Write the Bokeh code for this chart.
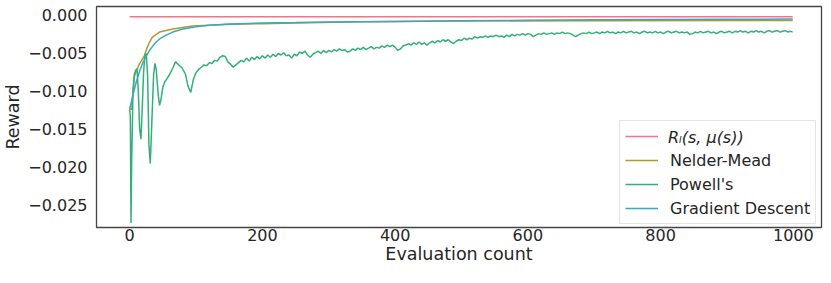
from bokeh.plotting import figure
from bokeh.models import FixedTicker, CustomJSTickFormatter, Legend, LegendItem, Range1d, Label
from bokeh.embed import file_html
from bokeh.resources import INLINE

# ---------------- data ----------------
ref_x = [0, 999]
ref_y = [-0.0003, -0.0003]

nm_x = [0, 3, 5, 7, 9, 14, 18, 22, 26, 30, 34, 40, 45, 55, 65, 80, 95, 120, 145,
        200, 250, 350, 500, 700, 999]
nm_y = [-0.0124, -0.0124, -0.0100, -0.0082, -0.0076, -0.0066, -0.0060, -0.0054,
        -0.0044, -0.0036, -0.0030, -0.0026, -0.0023, -0.0021, -0.0019, -0.0017,
        -0.0015, -0.0014, -0.0013, -0.0012, -0.0011, -0.00095, -0.00085, -0.0008,
        -0.00078]

gd_x = [0, 5, 10, 15, 20, 25, 30, 35, 40, 45, 55, 65, 80, 100, 120, 150, 200, 250,
        300, 400, 500, 600, 700, 800, 900, 999]
gd_y = [-0.0124, -0.0105, -0.0088, -0.0074, -0.0063, -0.0054, -0.0047, -0.0041,
        -0.0036, -0.0032, -0.0027, -0.0023, -0.0019, -0.0016, -0.0014, -0.00125,
        -0.0011, -0.00105, -0.00098, -0.0009, -0.00083, -0.00076, -0.0007, -0.00066,
        -0.00063, -0.0006]

pw_x_early = [0, 1, 2, 3, 4, 5, 7, 9, 11, 13, 15, 17, 19, 21, 23, 25, 27, 29, 31, 33,
              36, 38, 40, 43, 45, 47, 50, 53, 57, 61, 65, 69, 74, 79, 84, 88, 92, 96,
              100, 105]
pw_y_early = [-0.0124, -0.0135, -0.0273, -0.0190, -0.0150, -0.0100, -0.0078, -0.0073,
              -0.0071, -0.0100, -0.0150, -0.0163, -0.0120, -0.0075, -0.0053, -0.0051,
              -0.0080, -0.0170, -0.0195, -0.0150, -0.0080, -0.0064, -0.0072, -0.0105,
              -0.0119, -0.0112, -0.0095, -0.0088, -0.0083, -0.0077, -0.0070, -0.0062,
              -0.0066, -0.0070, -0.0078, -0.0094, -0.0102, -0.0085, -0.0076, -0.0071]
pw_x_late = list(range(108, 997, 4)) + [999]
pw_y_late = [
    -0.0069, -0.0066, -0.0067, -0.0063, -0.0064, -0.0060, -0.0061, -0.0056, -0.0054, -0.0055,
    -0.0062, -0.0065, -0.0069, -0.0066, -0.0063, -0.0060, -0.0062, -0.0057, -0.0061, -0.0056,
    -0.0059, -0.0055, -0.0058, -0.0054, -0.0057, -0.0053, -0.0056, -0.0052, -0.0055, -0.0051,
    -0.0053, -0.0050, -0.0054, -0.0053, -0.0057, -0.0052, -0.0054, -0.0049, -0.0051, -0.0048,
    -0.0053, -0.0056, -0.0052, -0.0050, -0.0048, -0.0051, -0.0047, -0.0050, -0.0047, -0.0049,
    -0.0046, -0.0048, -0.0045, -0.0047, -0.0046, -0.0049, -0.0048, -0.0045, -0.0047, -0.0044,
    -0.0046, -0.0043, -0.0046, -0.0044, -0.0042, -0.0045, -0.0043, -0.0044, -0.0041, -0.0043,
    -0.0040, -0.0042, -0.0040, -0.0043, -0.0047, -0.0045, -0.0041, -0.0040, -0.0038, -0.0040,
    -0.0037, -0.0039, -0.0036, -0.0039, -0.0037, -0.0040, -0.0037, -0.0035, -0.0037, -0.0034,
    -0.0036, -0.0033, -0.0035, -0.0033, -0.0036, -0.0038, -0.0035, -0.0033, -0.0034, -0.0031,
    -0.0033, -0.0031, -0.0032, -0.0029, -0.0031, -0.0029, -0.0030, -0.0028, -0.0030, -0.0028,
    -0.0029, -0.0027, -0.0029, -0.0028, -0.0030, -0.0027, -0.0029, -0.0026, -0.0028, -0.0026,
    -0.0027, -0.0025, -0.0027, -0.0025, -0.0026, -0.0029, -0.0027, -0.0025, -0.0026, -0.0024,
    -0.0026, -0.0025, -0.0024, -0.0026, -0.0024, -0.0025, -0.0023, -0.0025, -0.0024, -0.0025,
    -0.0027, -0.0029, -0.0027, -0.0025, -0.0024, -0.0025, -0.0023, -0.0025, -0.0024, -0.0023,
    -0.0025, -0.0023, -0.0024, -0.0022, -0.0024, -0.0023, -0.0025, -0.0023, -0.0024, -0.0022,
    -0.0024, -0.0023, -0.0022, -0.0024, -0.0023, -0.0025, -0.0023, -0.0022, -0.0024, -0.0023,
    -0.0024, -0.0022, -0.0024, -0.0023, -0.0025, -0.0023, -0.0022, -0.0024, -0.0023, -0.0022,
    -0.0024, -0.0023, -0.0024, -0.0023, -0.0026, -0.0025, -0.0023, -0.0024, -0.0022, -0.0024,
    -0.0023, -0.0022, -0.0024, -0.0023, -0.0025, -0.0023, -0.0022, -0.0024, -0.0023, -0.0022,
    -0.0024, -0.0022, -0.0023, -0.0021, -0.0023, -0.0022, -0.0024, -0.0022, -0.0023, -0.0021,
    -0.0023, -0.0022, -0.0024, -0.0022, -0.0021, -0.0023, -0.0022, -0.0021, -0.0023, -0.0022,
    -0.0021, -0.0023, -0.0022,
    -0.0023]
pw_x = pw_x_early + pw_x_late
pw_y = pw_y_early + pw_y_late

x_ticks = [0, 200, 400, 600, 800, 1000]
y_ticks = [-0.025, -0.020, -0.015, -0.010, -0.005, 0.0]

labels = ["Rₗ(s, μ(s))", "Nelder-Mead", "Powell's", "Gradient Descent"]
colors = ["#f77189", "#ae9b2f", "#33b07a", "#38a9c5"]

FONT = "DejaVu Sans"
TXT = "#262626"

# ---------------- layout constants (pixels) ----------------
W, H = 823, 267
FL, FR, FT, FB = 94, 821, 6, 227          # expected frame box
X0, X1 = -50, 1042.4
Y0, Y1 = -0.02788, 0.00105
LEG_X, LEG_Y = 523, 3                      # legend offset from frame bottom-left
PAD, SPC, ROW_H, GLYPH_W, STANDOFF = 5, 4, 20, 33, 12
LEG_H = 4 * ROW_H + 3 * SPC + 2 * PAD

# ---------------- figure ----------------
p = figure(width=W, height=H, output_backend="svg", toolbar_location=None,
           x_range=Range1d(X0, X1), y_range=Range1d(Y0, Y1),
           min_border_left=FL, min_border_right=W - FR, min_border_top=FT,
           min_border_bottom=H - FB)
p.outline_line_color = "#444444"
p.outline_line_width = 1.3
p.grid.visible = False
p.background_fill_color = "white"
p.border_fill_color = "white"

r0 = p.line(ref_x, ref_y, color=colors[0], line_width=1.5)
r1 = p.line(nm_x, nm_y, color=colors[1], line_width=1.5)
r2 = p.line(pw_x, pw_y, color=colors[2], line_width=1.5)
r3 = p.line(gd_x, gd_y, color=colors[3], line_width=1.5)

for ax in (p.xaxis[0], p.yaxis[0]):
    ax.axis_line_color = None
    ax.major_tick_line_color = None
    ax.minor_tick_line_color = None
    ax.major_tick_out = 0
    ax.major_tick_in = 0
    ax.minor_tick_out = 0
    ax.minor_tick_in = 0
    ax.major_label_text_font = FONT
    ax.major_label_text_font_size = "16px"
    ax.major_label_text_color = TXT
    ax.axis_label_text_font = FONT
    ax.axis_label_text_font_size = "17.5px"
    ax.axis_label_text_font_style = "normal"
    ax.axis_label_text_color = TXT

p.xaxis.ticker = FixedTicker(ticks=x_ticks)
p.yaxis.ticker = FixedTicker(ticks=y_ticks)
p.xaxis.axis_label = "Evaluation count"
p.yaxis.axis_label = "Reward"
p.xaxis.major_label_standoff = 1
p.xaxis.axis_label_standoff = 0
p.yaxis.major_label_standoff = 9
p.yaxis.axis_label_standoff = 2
p.yaxis.formatter = CustomJSTickFormatter(code="""
    if (Math.abs(tick) < 1e-12) { return "0.000"; }
    return (tick < 0 ? "\\u2212" : "") + Math.abs(tick).toFixed(3);
""")

legend = Legend(items=[LegendItem(label=" ", renderers=[r0]),
                       LegendItem(label=labels[1], renderers=[r1]),
                       LegendItem(label=labels[2], renderers=[r2]),
                       LegendItem(label=labels[3], renderers=[r3])],
                location=(LEG_X, LEG_Y), padding=PAD, spacing=SPC,
                label_height=ROW_H, glyph_height=ROW_H, glyph_width=GLYPH_W,
                label_standoff=STANDOFF,
                label_text_font=FONT, label_text_font_size="16px",
                label_text_color=TXT, margin=0,
                border_line_color="#cccccc", border_line_width=1,
                background_fill_color="white", background_fill_alpha=0)
p.add_layout(legend)

# italic math-style label of the first legend entry, placed on the legend's first row
row1_px_x = FL + LEG_X + PAD + GLYPH_W + STANDOFF
row1_px_y = FB - LEG_Y - LEG_H + PAD + ROW_H / 2
lab_x = X0 + (row1_px_x - FL) / (FR - FL) * (X1 - X0)
lab_y = Y1 - (row1_px_y - FT) / (FB - FT) * (Y1 - Y0)
p.add_layout(Label(x=lab_x, y=lab_y, text=labels[0], text_font=FONT,
                   text_font_size="16px", text_font_style="italic",
                   text_color=TXT, text_baseline="middle", text_align="left",
                   level="overlay"))

open("out.html", "w").write(file_html(p, INLINE))
